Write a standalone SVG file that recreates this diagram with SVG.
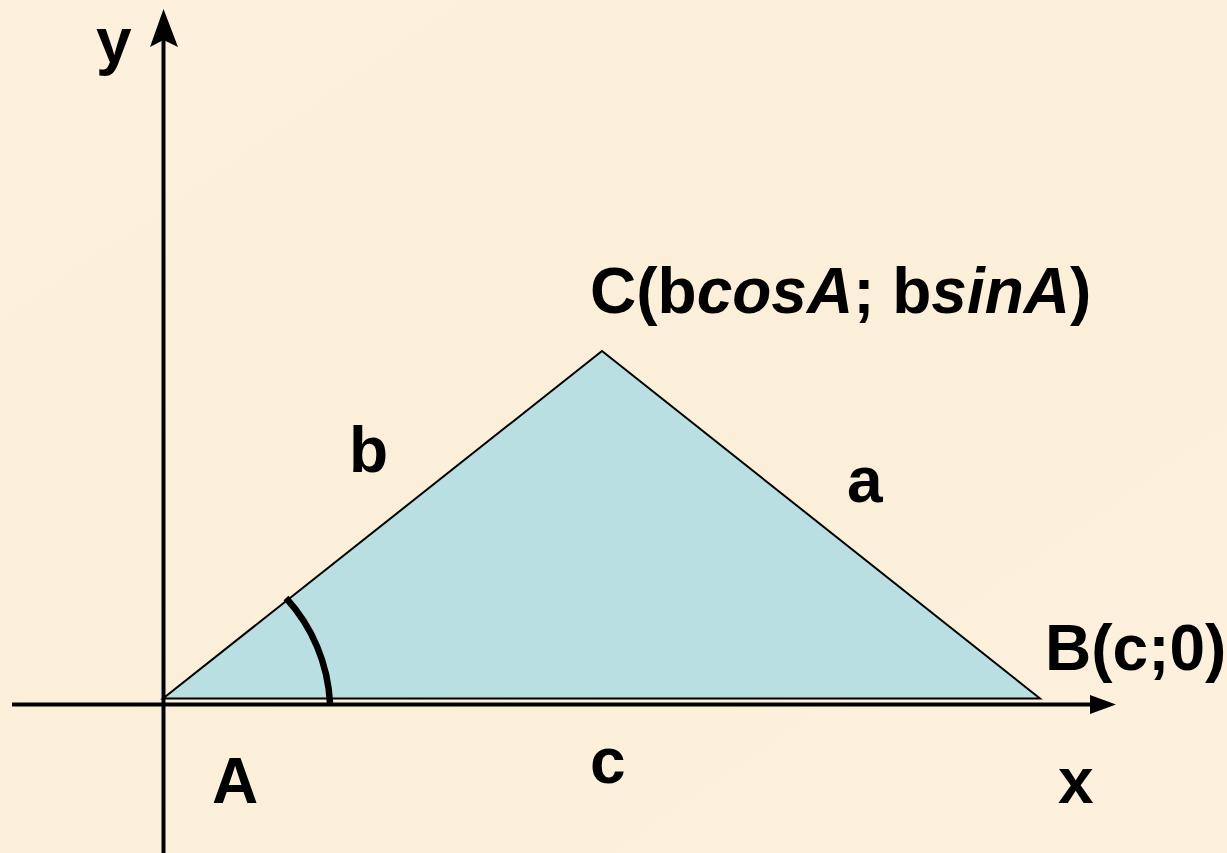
<svg xmlns="http://www.w3.org/2000/svg" width="1227" height="853" viewBox="0 0 1227 853">
<style>
.t{font-family:"Liberation Sans",Arial,sans-serif;font-weight:bold;font-size:64px;fill:#000}
.i{font-style:italic}
.axis{stroke:#000;stroke-width:4;fill:none}
</style>
<defs>
<linearGradient id="bg" x1="0" y1="0" x2="1" y2="1">
<stop offset="0" stop-color="#fdf1dd"/>
<stop offset="0.5" stop-color="#fcefd9"/>
<stop offset="1" stop-color="#fdf1de"/>
</linearGradient>
</defs>
<rect width="1227" height="853" fill="url(#bg)"/>
<g id="triangle">
<polygon points="163,698.5 602,351 1040,698.5" fill="#badfe3" stroke="#000" stroke-width="2" stroke-linejoin="miter"/>
</g>
<g id="connectors">
<line class="axis" x1="12" y1="704.5" x2="1095" y2="704.5"/>
<polygon points="1090,695 1116,704.5 1090,714" fill="#000"/>
<line class="axis" x1="163.5" y1="853" x2="163.5" y2="40"/>
<polygon points="150,47 163.5,9 178,47 163.5,40" fill="#000"/>
</g>
<g id="angle">
<path d="M286,598 A168,168 0 0 1 330,703" fill="none" stroke="#000" stroke-width="6.5"/>
</g>
<g id="labels">
<text class="t" x="96" y="63">y</text>
<text class="t" x="1058" y="803">x</text>
<text class="t" x="212" y="803">A</text>
<text class="t" x="590" y="313">C(b<tspan class="i">cosA</tspan>; b<tspan class="i">sinA</tspan>)</text>
<text class="t" x="1045" y="670">B(c;0)</text>
<text class="t" x="349" y="472">b</text>
<text class="t" x="847" y="502">a</text>
<text class="t" x="590" y="783">c</text>
</g>
</svg>
